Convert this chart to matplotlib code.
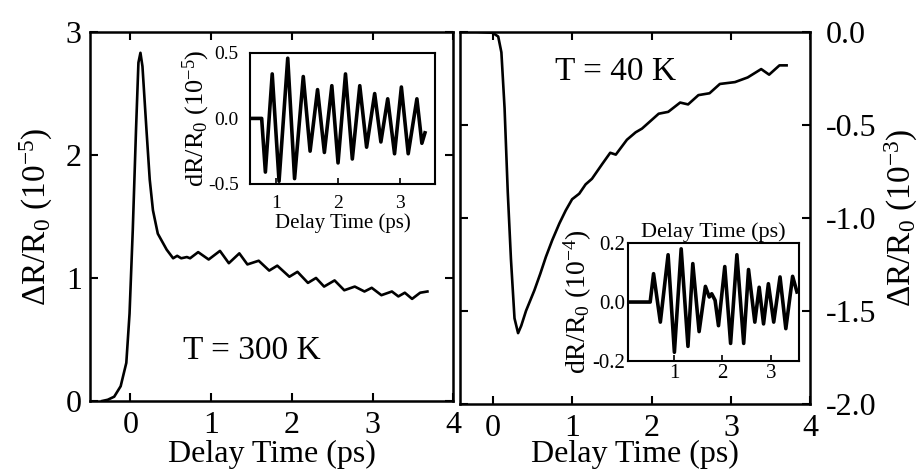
import matplotlib
matplotlib.use("Agg")
import matplotlib.pyplot as plt

# main curve, T = 300 K (units 1e-5)
t300 = [-0.35, -0.28, -0.2, -0.12, -0.05, -0.01, 0.03, 0.07, 0.10, 0.125, 0.15, 0.20,
        0.24, 0.28, 0.34, 0.45, 0.53, 0.58, 0.63, 0.70, 0.74, 0.84, 0.97, 1.11, 1.22,
        1.35, 1.45, 1.59, 1.72, 1.82, 1.97, 2.07, 2.20, 2.30, 2.40, 2.53, 2.65, 2.78,
        2.90, 2.99, 3.11, 3.24, 3.32, 3.40, 3.49, 3.59, 3.68]
r300 = [0.0, 0.01, 0.035, 0.12, 0.31, 0.71, 1.39, 2.20, 2.75, 2.83, 2.72, 2.20,
        1.80, 1.55, 1.36, 1.23, 1.16, 1.18, 1.16, 1.17, 1.16, 1.21, 1.15, 1.22, 1.12,
        1.20, 1.11, 1.14, 1.06, 1.10, 1.01, 1.05, 0.96, 1.00, 0.93, 0.98, 0.90, 0.93,
        0.89, 0.92, 0.86, 0.89, 0.85, 0.88, 0.83, 0.88, 0.89]

# main curve, T = 40 K (units 1e-3)
t40 = [-0.41, -0.2, 0.0, 0.07, 0.11, 0.15, 0.19, 0.23, 0.275, 0.32, 0.36, 0.42,
       0.525, 0.60, 0.67, 0.75, 0.84, 0.92, 1.0, 1.09, 1.17, 1.25, 1.38, 1.48, 1.55,
       1.69, 1.80, 1.88, 2.09, 2.21, 2.36, 2.46, 2.59, 2.73, 2.86, 3.05, 3.21, 3.38,
       3.48, 3.61, 3.70]
r40 = [0.0, 0.0, -0.005, -0.025, -0.11, -0.41, -0.86, -1.22, -1.54, -1.62, -1.58, -1.50,
       -1.39, -1.30, -1.21, -1.12, -1.03, -0.96, -0.90, -0.87, -0.82, -0.79, -0.71, -0.65, -0.66,
       -0.58, -0.54, -0.52, -0.44, -0.43, -0.38, -0.39, -0.34, -0.33, -0.28, -0.27, -0.245, -0.20,
       -0.23, -0.18, -0.18]

# inset oscillations
ti1 = [0.58, 0.77, 0.83, 0.94, 1.05, 1.19, 1.30, 1.44, 1.55, 1.67, 1.78, 1.90, 2.00,
       2.12, 2.23, 2.35, 2.46, 2.59, 2.69, 2.80, 2.91, 3.02, 3.13, 3.27, 3.35, 3.40]
ri1 = [0.0, 0.0, -0.41, 0.34, -0.48, 0.46, -0.46, 0.32, -0.25, 0.22, -0.26, 0.25, -0.34,
       0.34, -0.31, 0.25, -0.22, 0.19, -0.18, 0.15, -0.27, 0.24, -0.27, 0.15, -0.19, -0.11]

ti2 = [0.05, 0.51, 0.58, 0.72, 0.88, 1.01, 1.15, 1.29, 1.39, 1.52, 1.65, 1.73, 1.78,
       1.85, 1.92, 2.05, 2.17, 2.30, 2.44, 2.54, 2.67, 2.76, 2.85, 2.95, 3.06, 3.19,
       3.31, 3.45, 3.54]
ri2 = [0.0, 0.0, 0.096, -0.068, 0.16, -0.17, 0.18, -0.15, 0.13, -0.10, 0.053, 0.017, 0.028,
       0.006, -0.08, 0.12, -0.14, 0.16, -0.14, 0.11, -0.068, 0.05, -0.074, 0.062, -0.068, 0.085,
       -0.09, 0.087, 0.034]

plt.rcParams['font.family'] = ['Liberation Serif', 'DejaVu Serif']
plt.rcParams['mathtext.fontset'] = 'custom'
plt.rcParams['mathtext.rm'] = 'Liberation Serif'
plt.rcParams['mathtext.it'] = 'Liberation Serif:italic'
plt.rcParams['mathtext.default'] = 'rm'
plt.rcParams['axes.unicode_minus'] = False
plt.rcParams['axes.linewidth'] = 1.8


def style(ax, size, tlen):
    ax.tick_params(direction='in', top=True, right=True, length=tlen, width=1.5,
                   labelsize=size)
    ax.tick_params(axis='x', pad=7)
    ax.tick_params(axis='y', pad=6)


fig = plt.figure(figsize=(9.22, 4.69), dpi=100)

# left panel
ax1 = fig.add_axes([0.0976, 0.145, 0.394, 0.787])
ax1.plot(t300, r300, color='black', lw=1.9, solid_joinstyle='round')
ax1.set_xlim(-0.5, 4.0)
ax1.set_ylim(0, 3)
ax1.set_xticks([0, 1, 2, 3, 4])
ax1.set_yticks([0, 1, 2, 3])
style(ax1, 23, 6)
ax1.set_xlabel('Delay Time (ps)', fontsize=23, labelpad=0)
ax1.set_ylabel(r'ΔR/R$_0$ (10$^{-5}$)', fontsize=24, labelpad=8)
ax1.text(1.51, 0.41, 'T = 300 K', fontsize=24, ha='center', va='center')

# right panel
ax2 = fig.add_axes([0.499, 0.139, 0.380, 0.793])
ax2.plot(t40, r40, color='black', lw=1.9, solid_joinstyle='round')
ax2.set_xlim(-0.41, 3.97)
ax2.set_ylim(-2.0, 0.0)
ax2.set_xticks([0, 1, 2, 3, 4])
ax2.set_yticks([0.0, -0.5, -1.0, -1.5, -2.0])
ax2.yaxis.set_major_formatter(matplotlib.ticker.FormatStrFormatter('%.1f'))
style(ax2, 23, 6)
ax2.tick_params(axis='y', labelleft=False, labelright=True, pad=11)
ax2.yaxis.set_label_position('right')
ax2.set_xlabel('Delay Time (ps)', fontsize=23, labelpad=-2)
ax2.set_ylabel(r'ΔR/R$_0$ (10$^{-3}$)', fontsize=24, labelpad=5)
ax2.text(1.55, -0.215, 'T = 40 K', fontsize=24, ha='center', va='center')

# inset, 300 K
in1 = fig.add_axes([0.271, 0.608, 0.2007, 0.279])
in1.plot(ti1, ri1, color='black', lw=2.6, solid_joinstyle='round')
in1.set_xlim(0.58, 3.56)
in1.set_ylim(-0.5, 0.5)
in1.set_xticks([1, 2, 3])
in1.set_yticks([-0.5, 0.0, 0.5])
in1.spines[:].set_linewidth(1.5)
in1.tick_params(direction='in', length=4, width=1.2, labelsize=14, pad=8)
in1.set_xlabel('Delay Time (ps)', fontsize=15, labelpad=1)
in1.set_ylabel(r'dR/R$_0$ (10$^{-5}$)', fontsize=19, labelpad=-3)

# inset, 40 K
in2 = fig.add_axes([0.681, 0.230, 0.1855, 0.252])
in2.plot(ti2, ri2, color='black', lw=2.6, solid_joinstyle='round')
in2.set_xlim(0.05, 3.58)
in2.set_ylim(-0.2, 0.2)
in2.set_xticks([1, 2, 3])
in2.set_yticks([-0.2, 0.0, 0.2])
in2.spines[:].set_linewidth(1.5)
in2.tick_params(direction='in', length=4, width=1.2, labelsize=15, pad=2)
in2.xaxis.set_label_position('top')
in2.set_xlabel('Delay Time (ps)', fontsize=16, labelpad=4)
in2.set_ylabel(r'dR/R$_0$ (10$^{-4}$)', fontsize=20, labelpad=-1)

fig.savefig('out.png', dpi=100)
